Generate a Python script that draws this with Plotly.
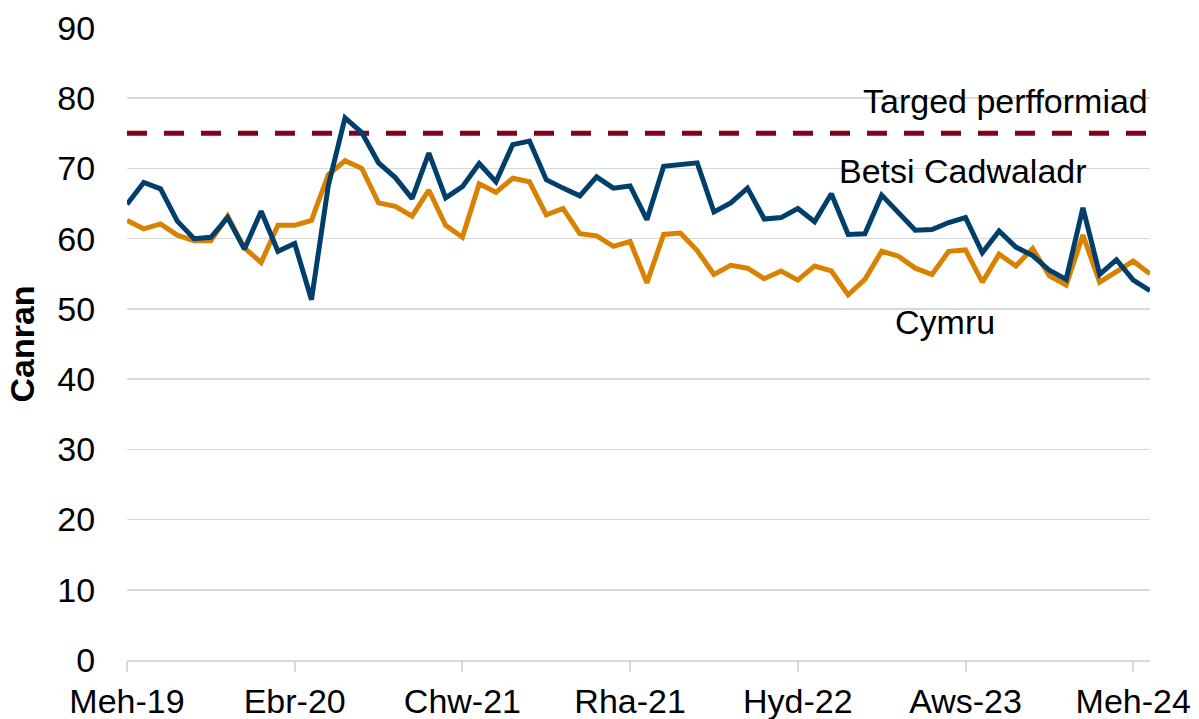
import plotly.graph_objects as go

# ---- data ----
welsh_months = ["Ion", "Chw", "Maw", "Ebr", "Mai", "Meh", "Gor", "Aws", "Med", "Hyd", "Tach", "Rha"]
months = []
for k in range(62):
    m = (5 + k) % 12
    y = 19 + (5 + k) // 12
    months.append(f"{welsh_months[m]}-{y:02d}")

betsi = [64.9, 68.0, 67.1, 62.5, 60.0, 60.2, 63.0, 58.5, 63.9, 58.2, 59.3, 51.3,
         67.5, 77.2, 75.1, 70.8, 68.7, 65.7, 72.2, 65.8, 67.4,
         70.7, 68.1, 73.4, 73.9, 68.4, 67.2, 66.1, 68.8, 67.2, 67.5, 62.7, 70.3,
         70.6, 70.8, 63.8, 65.1, 67.2, 62.8, 63.0, 64.3,
         62.4, 66.4, 60.6, 60.7, 66.2, 63.7, 61.2, 61.3, 62.3, 63.0, 58.0, 61.1,
         58.8, 57.6, 55.5, 54.2, 64.4, 54.9, 57.0, 54.1, 52.6]

cymru = [62.6, 61.4, 62.1, 60.5, 59.7, 59.7, 63.2, 58.7, 56.6, 61.9, 61.9, 62.6,
         69.1, 71.1, 70.0, 65.1, 64.6, 63.2, 66.9, 61.9, 60.2,
         67.8, 66.6, 68.6, 68.1, 63.4, 64.3, 60.7, 60.4, 58.9, 59.6, 53.7, 60.6,
         60.8, 58.3, 54.9, 56.2, 55.8, 54.3, 55.4, 54.1,
         56.1, 55.4, 52.0, 54.2, 58.2, 57.5, 55.8, 54.9, 58.2, 58.4, 53.8, 57.8,
         56.1, 58.6, 54.7, 53.4, 60.5, 53.8, 55.4, 56.8, 55.0]

target_value = 75
target = [target_value] * len(months)

tick_labels = ["Meh-19", "Ebr-20", "Chw-21", "Rha-21", "Hyd-22", "Aws-23", "Meh-24"]
y_ticks = [0, 10, 20, 30, 40, 50, 60, 70, 80, 90]

# ---- style ----
FONT = "Liberation Sans, Arial, sans-serif"
FS = 34
BLUE = "#003F6C"
ORANGE = "#D98100"
RED = "#840020"
GRID = "#D9D9D9"

fig = go.Figure()
fig.add_trace(go.Scatter(x=months, y=target, mode="lines",
                         line=dict(color=RED, width=5, dash="20px,17px"),
                         name="Targed perfformiad", hoverinfo="skip"))
fig.add_trace(go.Scatter(x=months, y=cymru, mode="lines",
                         line=dict(color=ORANGE, width=5), name="Cymru"))
fig.add_trace(go.Scatter(x=months, y=betsi, mode="lines",
                         line=dict(color=BLUE, width=5), name="Betsi Cadwaladr"))

fig.add_annotation(text="Targed perfformiad", xref="paper", yref="y", x=1.0, y=79.6,
                   xanchor="right", yanchor="middle", showarrow=False,
                   font=dict(family=FONT, size=FS, color="#000000"))
fig.add_annotation(text="Betsi Cadwaladr", xref="paper", yref="y", x=0.817, y=69.6,
                   xanchor="center", yanchor="middle", showarrow=False,
                   font=dict(family=FONT, size=FS, color="#000000"))
fig.add_annotation(text="Cymru", xref="paper", yref="y", x=0.8, y=48.1,
                   xanchor="center", yanchor="middle", showarrow=False,
                   font=dict(family=FONT, size=FS, color="#000000"))

fig.update_layout(
    width=1199, height=719,
    margin=dict(l=127, r=49, t=28, b=59),
    paper_bgcolor="white", plot_bgcolor="white",
    showlegend=False,
    font=dict(family=FONT, size=FS, color="#000000"),
    xaxis=dict(type="category", categoryorder="array", categoryarray=months,
               range=[0, len(months) - 1], automargin=False,
               tickmode="array", tickvals=tick_labels, ticktext=tick_labels,
               ticks="outside", ticklen=10, tickwidth=2, tickcolor=GRID,
               showline=True, linecolor=GRID, linewidth=2,
               showgrid=False, zeroline=False,
               tickfont=dict(family=FONT, size=FS, color="#000000")),
    yaxis=dict(range=[0, 90], tickmode="array", tickvals=y_ticks, automargin=False,
               showgrid=True, gridcolor=GRID, gridwidth=1.5,
               zeroline=False, showline=False,
               ticks="outside", ticklen=24, tickcolor="rgba(0,0,0,0)",
               tickfont=dict(family=FONT, size=FS, color="#000000"),
               title=dict(text="<b>Canran</b>", standoff=12,
                          font=dict(family=FONT, size=FS, color="#000000"))),
)

# remove the browser's default 8px page margin so the figure fills the window
fig.write_html("out.html",
               config={"displayModeBar": False, "staticPlot": True},
               post_script="document.body.style.margin='0';document.body.style.overflow='hidden';")
